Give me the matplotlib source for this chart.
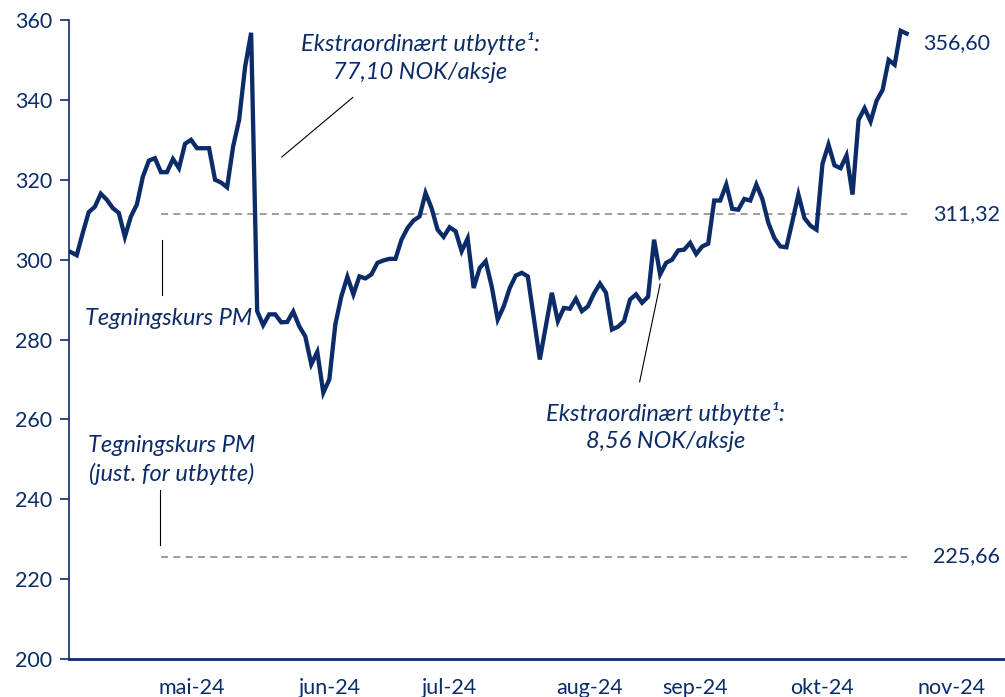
import matplotlib
matplotlib.use("Agg")
import matplotlib.pyplot as plt
import numpy as np

# Daily closing price (NOK), one value per trading day
prices = [
    301.9, 301.1, 306.7, 311.9, 313.2, 316.5, 315.0, 312.9, 311.7, 305.7,
    310.8, 313.8, 320.8, 324.8, 325.4, 321.9, 321.9, 325.2, 322.9, 329.0,
    330.0, 327.9, 327.9, 327.9, 320.0, 319.3, 318.1, 328.3, 335.0, 348.3,
    356.8,
    287.1, 283.6, 286.3, 286.3, 284.3, 284.4, 287.0, 283.3, 280.8, 273.8,
    276.9, 266.7, 270.0, 283.8, 290.8, 295.7, 291.3, 295.8, 295.3, 296.3,
    299.2, 299.8, 300.2, 300.2, 305.0, 307.9, 309.8, 310.8, 316.7, 312.9,
    307.5, 305.7, 308.1, 307.1, 302.1, 305.3, 292.9, 297.9, 299.6, 293.3,
    285.0,
    288.3, 292.9, 296.0, 296.7, 295.8, 285.4, 275.0, 283.3, 291.7, 284.6,
    287.9, 287.7, 290.2, 287.1, 288.3, 291.5, 294.0, 291.7, 282.5, 283.2,
    284.6, 290.0, 291.3, 289.2, 290.7, 305.0, 296.3, 299.2, 300.0, 302.3,
    302.5, 304.2, 301.4, 303.3, 304.0,
    314.8, 314.8, 318.8, 312.7, 312.5, 315.2, 314.8, 318.8, 315.2, 309.2,
    305.4, 303.3, 303.1, 309.6, 316.3, 310.4, 308.5, 307.5, 324.0,
    328.8, 323.6, 322.9, 326.1, 316.3, 335.0, 337.9, 334.6, 339.8, 342.5,
    350.0, 348.8, 357.3, 356.6,
]

# Subscription price in the private placement, before and after dividend adjustment
subscription_price = 311.32
subscription_price_adj = 225.66
subscription_day = 15  # trading-day index of the placement

month_labels = ["mai-24", "jun-24", "jul-24", "aug-24", "sep-24", "okt-24", "nov-24"]
month_pos = [20.2, 43.1, 62.9, 86.2, 103.8, 124.9, 146.5]

yticks = [200, 220, 240, 260, 280, 300, 320, 340, 360]

NAVY = "#0B2C68"
GREY = "#8C8C8C"

plt.rcParams["font.family"] = ["Lato", "DejaVu Sans"]

fig = plt.figure(figsize=(10.05, 6.97), dpi=100)
ax = fig.add_axes([0.0687, 0.0545, 0.9313, 0.9168])

x = np.arange(len(prices))
last = len(prices) - 1
ax.plot(x, prices, color=NAVY, lw=3.1, solid_joinstyle="miter", zorder=3)

for level in (subscription_price, subscription_price_adj):
    ax.plot([subscription_day, last], [level, level], color=GREY, lw=1.2,
            linestyle=(0, (4.2, 3.2)), zorder=2)

ax.set_xlim(-0.28, 155.35)
ax.set_ylim(200, 360)

ax.set_yticks(yticks)
ax.set_xticks(month_pos)
ax.set_xticklabels(month_labels)

for side in ("top", "right"):
    ax.spines[side].set_visible(False)
ax.spines["left"].set_color(NAVY)
ax.spines["left"].set_linewidth(1.2)
ax.spines["bottom"].set_color(NAVY)
ax.spines["bottom"].set_linewidth(2.0)

ax.tick_params(axis="y", length=6.5, width=1.2, color=NAVY, pad=5.5,
               labelsize=15.5, labelcolor=NAVY)
ax.tick_params(axis="x", length=0, pad=14, labelsize=15.5, labelcolor=NAVY)

txt = dict(color=NAVY, fontsize=15.5)
it = dict(color=NAVY, fontsize=17, style="italic", ha="center", va="center",
          linespacing=1.4)

# Value labels on the right
ax.text(last + 2.7, prices[-1] - 2.5, f"{prices[-1]:.2f}".replace(".", ","),
        ha="left", va="center", **txt)
ax.text(last + 4.4, subscription_price, f"{subscription_price:.2f}".replace(".", ","),
        ha="left", va="center", **txt)
ax.text(last + 4.4, subscription_price_adj, f"{subscription_price_adj:.2f}".replace(".", ","),
        ha="left", va="center", **txt)

# Annotations
ax.text(58.1, 350.6, "Ekstraordinært utbytte\u00b9:\n77,10 NOK/aksje", **it)
ax.plot([35.1, 46.9], [325.7, 340.6], color="black", lw=0.8)

ax.text(98.9, 258.1, "Ekstraordinært utbytte\u00b9:\n8,56 NOK/aksje", **it)
ax.plot([94.6, 98.0], [269.4, 293.9], color="black", lw=0.8)

ax.text(16.2, 285.2, "Tegningskurs PM", **it)
ax.plot([15.2, 15.2], [291.2, 304.8], color="black", lw=0.8)

ax.text(16.7, 249.8, "Tegningskurs PM\n(just. for utbytte)", **it)
ax.plot([14.9, 14.9], [228.6, 242.2], color="black", lw=0.8)

fig.savefig("out.png", dpi=100)
